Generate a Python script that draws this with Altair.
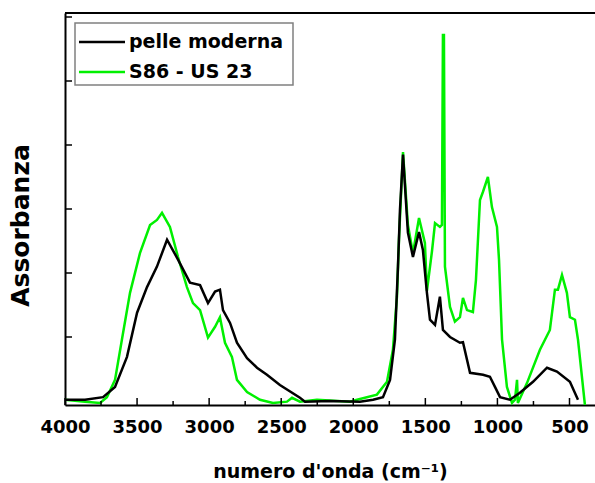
import altair as alt
import pandas as pd

series_names = ["pelle moderna", "S86 - US 23"]
series_colors = ["#000000", "#00f000"]

black_wn = [4000, 3861, 3736, 3653, 3570, 3500, 3431, 3362, 3292, 3216, 3133, 3063, 3008, 2959,
            2925, 2904, 2855, 2807, 2737, 2668, 2599, 2509, 2370, 2335, 2162, 1954, 1863, 1794,
            1745, 1711, 1690, 1676, 1655, 1621, 1586, 1544, 1517, 1489, 1468, 1433, 1399, 1378,
            1329, 1260, 1239, 1190, 1100, 1052, 1017, 982, 913, 844, 753, 656, 587, 497, 441]
black_abs = [0.02, 0.02, 0.06, 0.22, 0.69, 1.38, 1.78, 2.10, 2.52, 2.21, 1.85, 1.81, 1.53, 1.71,
             1.74, 1.42, 1.22, 0.91, 0.67, 0.52, 0.41, 0.25, 0.05, -0.01, 0.00, -0.01, 0.02, 0.06,
             0.33, 0.96, 2.10, 2.99, 3.85, 2.63, 2.25, 2.64, 2.36, 1.69, 1.27, 1.19, 1.63, 1.11,
             1.00, 0.91, 0.92, 0.44, 0.41, 0.38, 0.22, 0.06, 0.02, 0.13, 0.30, 0.52, 0.46, 0.30, 0.02]

green_wn = [4000, 3861, 3757, 3709, 3653, 3605, 3549, 3480, 3410, 3362, 3327, 3272, 3216, 3154,
            3112, 3063, 3008, 2959, 2925, 2890, 2842, 2807, 2737, 2647, 2557, 2460, 2425, 2370,
            2252, 2023, 1974, 1836, 1766, 1725, 1697, 1683, 1655, 1621, 1586, 1544, 1503, 1489,
            1454, 1433, 1399, 1385, 1378, 1371, 1364, 1329, 1295, 1260, 1239, 1211, 1170, 1149,
            1121, 1100, 1066, 1038, 1003, 989, 968, 934, 899, 878, 864, 858, 795, 705, 636, 601,
            580, 552, 518, 497, 462, 441, 393]
green_abs = [0.02, -0.01, -0.03, 0.06, 0.33, 0.96, 1.69, 2.31, 2.75, 2.83, 2.94, 2.72, 2.25, 1.78,
             1.53, 1.42, 0.99, 1.16, 1.31, 0.91, 0.69, 0.33, 0.14, 0.02, -0.03, -0.01, 0.05, -0.01,
             0.02, -0.01, 0.02, 0.10, 0.30, 0.80, 1.63, 2.52, 3.89, 2.75, 2.31, 2.86, 2.47, 1.72,
             2.34, 2.78, 2.72, 2.75, 5.72, 5.72, 2.10, 1.47, 1.24, 1.31, 1.61, 1.42, 1.39, 1.89,
             3.14, 3.27, 3.50, 3.03, 2.72, 2.21, 0.96, 0.22, -0.03, 0.02, 0.33, -0.03, 0.28, 0.80,
             1.11, 1.74, 1.74, 1.97, 1.69, 1.31, 1.27, 0.96, -0.06]

x_labels = [4000, 3500, 3000, 2500, 2000, 1500, 1000, 500]
x_minor = [3750, 3250, 2750, 2250, 1750, 1250, 750]
y_ticks = [1, 2, 3, 4, 5, 6]

W, H = 530, 392
FONT = "DejaVu Sans"
X_TITLE = "numero d'onda (cm⁻¹)"
Y_TITLE = "Assorbanza"

xscale = alt.Scale(domain=[323, 4000], reverse=True, nice=False, zero=False)
yscale = alt.Scale(domain=[-0.0625, 6.0625], nice=False, zero=False)

df_b = pd.DataFrame({"wn": black_wn, "a": black_abs})
df_g = pd.DataFrame({"wn": green_wn, "a": green_abs})

x_axis = alt.Axis(values=x_labels, format="d", ticks=False, grid=False, labelFlush=False,
                  labelOverlap=False, labelFont=FONT, labelFontSize=18, labelFontWeight="bold",
                  labelColor="black", labelPadding=13, domainColor="black", domainWidth=2,
                  titleFont=FONT, titleFontSize=19, titleFontWeight="bold", titleColor="black",
                  titleX=265, titleY=72, titleAlign="center", titleBaseline="alphabetic")
y_axis = alt.Axis(labels=False, ticks=False, grid=False, domainColor="black", domainWidth=2,
                  titleFont=FONT, titleFontSize=25, titleFontWeight="bold", titleColor="black",
                  titleAngle=270, titleX=-45, titleY=212, titleAlign="center",
                  titleBaseline="middle")


def X(field):
    return alt.X(field, scale=xscale, axis=x_axis, title=X_TITLE)


def Y(field):
    return alt.Y(field, scale=yscale, axis=y_axis, title=Y_TITLE)


green_line = alt.Chart(df_g).mark_line(color=series_colors[1], strokeWidth=2.5).encode(
    x=X("wn:Q"), y=Y("a:Q"))
black_line = alt.Chart(df_b).mark_line(color=series_colors[0], strokeWidth=2.5).encode(
    x=X("wn:Q"), y=Y("a:Q"))

major_ticks = alt.Chart(pd.DataFrame({"wn": x_labels})).mark_rule(color="black", strokeWidth=1.5).encode(
    x=X("wn:Q"), y=alt.value(H), y2=alt.value(H - 7))
minor_ticks = alt.Chart(pd.DataFrame({"wn": x_minor})).mark_rule(color="black", strokeWidth=1.5).encode(
    x=X("wn:Q"), y=alt.value(H), y2=alt.value(H - 4))
y_tick_marks = alt.Chart(pd.DataFrame({"a": y_ticks})).mark_rule(color="black", strokeWidth=1.5).encode(
    y=Y("a:Q"), x=alt.value(0), x2=alt.value(7))
top_border = alt.Chart(pd.DataFrame({"d": [0]})).mark_rule(color="black", strokeWidth=2).encode(
    x=alt.value(0), x2=alt.value(W), y=alt.value(0))

legend_box = alt.Chart(pd.DataFrame({"d": [0]})).mark_rect(
    fill="white", stroke="#808080", strokeWidth=1.5).encode(
    x=alt.value(10), x2=alt.value(228), y=alt.value(10), y2=alt.value(72))
leg_layers = []
for i, (name, col) in enumerate(zip(series_names, series_colors)):
    yy = 29 + 30 * i
    leg_layers.append(alt.Chart(pd.DataFrame({"d": [0]})).mark_rule(color=col, strokeWidth=2.5).encode(
        x=alt.value(14), x2=alt.value(60), y=alt.value(yy)))
    leg_layers.append(alt.Chart(pd.DataFrame({"d": [0]})).mark_text(
        text=name, font=FONT, fontSize=19, fontWeight="bold", color="black",
        align="left", baseline="middle").encode(x=alt.value(64), y=alt.value(yy)))

chart = alt.layer(green_line, black_line, major_ticks, minor_ticks, y_tick_marks, top_border,
                  legend_box, *leg_layers).properties(
    width=W, height=H,
    autosize=alt.AutoSizeParams(type="none"),
    padding={"left": 65, "top": 13, "right": 0, "bottom": 78},
).configure_view(stroke=None).configure(font=FONT, background="white")

chart.save("out.html", embed_options={"renderer": "svg", "actions": False})
